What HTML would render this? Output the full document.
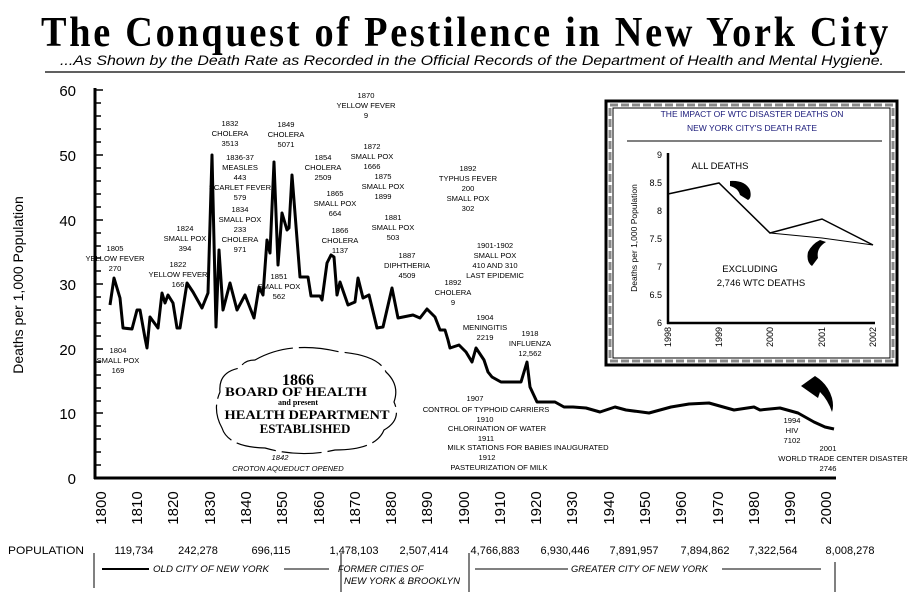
<!DOCTYPE html>
<html><head><meta charset="utf-8"><style>
html,body{margin:0;padding:0;background:#fff;}
svg{display:block;}
.a{font-family:"Liberation Sans",sans-serif;font-size:7.6px;text-anchor:middle;fill:#000;}
</style></head><body>
<svg width="913" height="592" viewBox="0 0 913 592" xmlns="http://www.w3.org/2000/svg">
<!-- Title -->
<text x="466" y="46" text-anchor="middle" font-family="Liberation Serif,serif" font-weight="bold" font-size="42" letter-spacing="3" textLength="850" lengthAdjust="spacingAndGlyphs">The  Conquest  of  Pestilence  in  New  York  City</text>
<text x="472" y="65" text-anchor="middle" font-family="Liberation Sans,sans-serif" font-style="italic" font-size="14" textLength="824" lengthAdjust="spacingAndGlyphs">...As Shown by the Death Rate as Recorded in the Official Records of the Department of Health and Mental Hygiene.</text>
<line x1="45" y1="72" x2="905" y2="72" stroke="#000" stroke-width="1.2"/>

<!-- Axes -->
<line x1="95" y1="88" x2="95" y2="479" stroke="#000" stroke-width="3"/>
<line x1="94" y1="478" x2="836" y2="478" stroke="#000" stroke-width="3"/>
<g stroke="#000" stroke-width="1.5">
<line x1="95" y1="90" x2="103" y2="90"/><line x1="95" y1="103" x2="101" y2="103"/><line x1="95" y1="116" x2="101" y2="116"/><line x1="95" y1="129" x2="101" y2="129"/><line x1="95" y1="142" x2="101" y2="142"/><line x1="95" y1="155" x2="103" y2="155"/><line x1="95" y1="168" x2="101" y2="168"/><line x1="95" y1="181" x2="101" y2="181"/><line x1="95" y1="194" x2="101" y2="194"/><line x1="95" y1="207" x2="101" y2="207"/><line x1="95" y1="220" x2="103" y2="220"/><line x1="95" y1="233" x2="101" y2="233"/><line x1="95" y1="246" x2="101" y2="246"/><line x1="95" y1="258" x2="101" y2="258"/><line x1="95" y1="271" x2="101" y2="271"/><line x1="95" y1="284" x2="103" y2="284"/><line x1="95" y1="297" x2="101" y2="297"/><line x1="95" y1="310" x2="101" y2="310"/><line x1="95" y1="323" x2="101" y2="323"/><line x1="95" y1="336" x2="101" y2="336"/><line x1="95" y1="349" x2="103" y2="349"/><line x1="95" y1="362" x2="101" y2="362"/><line x1="95" y1="375" x2="101" y2="375"/><line x1="95" y1="388" x2="101" y2="388"/><line x1="95" y1="401" x2="101" y2="401"/><line x1="95" y1="413" x2="103" y2="413"/><line x1="95" y1="426" x2="101" y2="426"/><line x1="95" y1="439" x2="101" y2="439"/><line x1="95" y1="452" x2="101" y2="452"/><line x1="95" y1="465" x2="101" y2="465"/>
</g>
<g font-family="Liberation Sans,sans-serif" font-size="15" text-anchor="end">
<text x="76" y="96">60</text><text x="76" y="161">50</text><text x="76" y="226">40</text><text x="76" y="290">30</text><text x="76" y="355">20</text><text x="76" y="419">10</text><text x="76" y="484">0</text>
</g>
<text transform="translate(23,285) rotate(-90)" text-anchor="middle" font-family="Liberation Sans,sans-serif" font-size="14">Deaths per 1,000 Population</text>
<g font-family="Liberation Sans,sans-serif" font-size="15" text-anchor="middle">
<text transform="translate(106,508) rotate(-90)">1800</text><text transform="translate(142,508) rotate(-90)">1810</text><text transform="translate(178,508) rotate(-90)">1820</text><text transform="translate(215,508) rotate(-90)">1830</text><text transform="translate(251,508) rotate(-90)">1840</text><text transform="translate(287,508) rotate(-90)">1850</text><text transform="translate(324,508) rotate(-90)">1860</text><text transform="translate(360,508) rotate(-90)">1870</text><text transform="translate(396,508) rotate(-90)">1880</text><text transform="translate(432,508) rotate(-90)">1890</text><text transform="translate(469,508) rotate(-90)">1900</text><text transform="translate(505,508) rotate(-90)">1910</text><text transform="translate(541,508) rotate(-90)">1920</text><text transform="translate(577,508) rotate(-90)">1930</text><text transform="translate(614,508) rotate(-90)">1940</text><text transform="translate(650,508) rotate(-90)">1950</text><text transform="translate(686,508) rotate(-90)">1960</text><text transform="translate(723,508) rotate(-90)">1970</text><text transform="translate(759,508) rotate(-90)">1980</text><text transform="translate(795,508) rotate(-90)">1990</text><text transform="translate(831,508) rotate(-90)">2000</text>
</g>

<!-- Series -->
<polyline fill="none" stroke="#000" stroke-width="3" stroke-linejoin="round" points="110,305 114,278 120,298 123,328 132,329 137,310 140,310 145,338 147,348 150,317 158,328 162,293 165,303 168,295 173,303 177,328 180,328 187,283 193,292 202,308 208,293 212,155 216,327 219,250 223,310 230,283 237,310 245,295 254,318 259,287 263,295 267,240 270,253 274,162 278,265 282,213 287,230 289,228 292,175 300,277 308,277 311,296 320,296 322,300 327,263 331,255 334,257 337,295 340,282 348,305 355,302 358,278 363,298 369,295 377,328 383,327 392,288 398,318 413,315 420,318 427,309 435,317 440,330 445,330 448,340 450,348 459,345 466,352 472,362 476,348 484,360 488,372 492,377 501,382 521,382 527,362 530,387 537,402 555,402 564,407 573,407 586,408 600,412 615,407 626,410 649,413 671,407 689,404 709,403 734,410 754,407 760,410 780,408 798,413 814,422 825,427 834,429"/>

<!-- Annotations -->
<g class="a">
<text x="115" y="251">1805</text><text x="115" y="261">YELLOW FEVER</text><text x="115" y="271">270</text>
<text x="118" y="353">1804</text><text x="118" y="363">SMALL POX</text><text x="118" y="373">169</text>
<text x="178" y="267">1822</text><text x="178" y="277">YELLOW FEVER</text><text x="178" y="287">166</text>
<text x="185" y="231">1824</text><text x="185" y="241">SMALL POX</text><text x="185" y="251">394</text>
<text x="230" y="126">1832</text><text x="230" y="136">CHOLERA</text><text x="230" y="146">3513</text>
<text x="240" y="160">1836-37</text><text x="240" y="170">MEASLES</text><text x="240" y="180">443</text><text x="240" y="190">SCARLET FEVER</text><text x="240" y="200">579</text>
<text x="240" y="212">1834</text><text x="240" y="222">SMALL POX</text><text x="240" y="232">233</text><text x="240" y="242">CHOLERA</text><text x="240" y="252">971</text>
<text x="286" y="127">1849</text><text x="286" y="137">CHOLERA</text><text x="286" y="147">5071</text>
<text x="279" y="279">1851</text><text x="279" y="289">SMALL POX</text><text x="279" y="299">562</text>
<text x="323" y="160">1854</text><text x="323" y="170">CHOLERA</text><text x="323" y="180">2509</text>
<text x="335" y="196">1865</text><text x="335" y="206">SMALL POX</text><text x="335" y="216">664</text>
<text x="340" y="233">1866</text><text x="340" y="243">CHOLERA</text><text x="340" y="253">1137</text>
<text x="366" y="98">1870</text><text x="366" y="108">YELLOW FEVER</text><text x="366" y="118">9</text>
<text x="372" y="149">1872</text><text x="372" y="159">SMALL POX</text><text x="372" y="169">1666</text>
<text x="383" y="179">1875</text><text x="383" y="189">SMALL POX</text><text x="383" y="199">1899</text>
<text x="393" y="220">1881</text><text x="393" y="230">SMALL POX</text><text x="393" y="240">503</text>
<text x="407" y="258">1887</text><text x="407" y="268">DIPHTHERIA</text><text x="407" y="278">4509</text>
<text x="468" y="171">1892</text><text x="468" y="181">TYPHUS FEVER</text><text x="468" y="191">200</text><text x="468" y="201">SMALL POX</text><text x="468" y="211">302</text>
<text x="495" y="248">1901-1902</text><text x="495" y="258">SMALL POX</text><text x="495" y="268">410 AND 310</text><text x="495" y="278">LAST EPIDEMIC</text>
<text x="453" y="285">1892</text><text x="453" y="295">CHOLERA</text><text x="453" y="305">9</text>
<text x="485" y="320">1904</text><text x="485" y="330">MENINGITIS</text><text x="485" y="340">2219</text>
<text x="530" y="336">1918</text><text x="530" y="346">INFLUENZA</text><text x="530" y="356">12,562</text>
<text x="475" y="401">1907</text><text x="486" y="412">CONTROL OF TYPHOID CARRIERS</text>
<text x="485" y="422">1910</text><text x="497" y="431">CHLORINATION OF WATER</text>
<text x="486" y="441">1911</text><text x="528" y="450">MILK STATIONS FOR BABIES INAUGURATED</text>
<text x="487" y="460">1912</text><text x="499" y="470">PASTEURIZATION OF MILK</text>
<text x="792" y="423">1994</text><text x="792" y="433">HIV</text><text x="792" y="443">7102</text>
<text x="828" y="451">2001</text><text x="843" y="461">WORLD TRADE CENTER DISASTER</text><text x="828" y="471">2746</text>
<text x="280" y="460" font-style="italic">1842</text><text x="288" y="471" font-style="italic">CROTON AQUEDUCT OPENED</text>
</g>

<!-- Cloud -->
<path d="M255,360 Q290,340 340,352 Q378,355 386,372 Q400,385 394,402 Q402,420 384,430 Q376,450 335,450 Q300,458 265,448 Q228,447 222,428 Q212,410 220,392 Q218,372 240,368 Q244,360 255,360 Z" fill="none" stroke="#000" stroke-width="1.2" stroke-dasharray="40 6"/>
<g font-family="Liberation Serif,serif" font-weight="bold" text-anchor="middle">
<text x="298" y="385" font-size="16">1866</text>
<text x="296" y="396" font-size="13" textLength="142" lengthAdjust="spacingAndGlyphs">BOARD OF HEALTH</text>
<text x="298" y="405" font-size="8">and present</text>
<text x="307" y="419" font-size="13" textLength="165" lengthAdjust="spacingAndGlyphs">HEALTH DEPARTMENT</text>
<text x="305" y="433" font-size="13">ESTABLISHED</text>
</g>

<!-- Main arrow -->
<path d="M801,386 L815,376 Q828,384 832,398 Q834,406 832,412 Q828,400 820,392 L818,398 Z" fill="#000"/>

<!-- Inset -->
<rect x="606" y="101" width="291" height="264" fill="#fff" stroke="#000" stroke-width="3"/>
<rect x="610" y="105" width="283" height="256" fill="none" stroke="#888" stroke-width="3" stroke-dasharray="8 3"/>
<rect x="613" y="108" width="277" height="250" fill="#fff" stroke="#000" stroke-width="1"/>
<g font-family="Liberation Sans,sans-serif" font-size="8.5" fill="#1a1a7a" text-anchor="middle">
<text x="752" y="117">THE  IMPACT  OF  WTC DISASTER DEATHS  ON</text>
<text x="752" y="131">NEW  YORK  CITY'S  DEATH RATE</text>
</g>
<line x1="627" y1="141" x2="882" y2="141" stroke="#000" stroke-width="1"/>
<line x1="668" y1="153" x2="668" y2="324" stroke="#000" stroke-width="2.5"/>
<line x1="667" y1="323" x2="875" y2="323" stroke="#000" stroke-width="2.5"/>
<g font-family="Liberation Sans,sans-serif" font-size="9" text-anchor="end">
<text x="662" y="158">9</text><text x="662" y="186">8.5</text><text x="662" y="214">8</text><text x="662" y="242">7.5</text><text x="662" y="270">7</text><text x="662" y="298">6.5</text><text x="662" y="326">6</text>
</g>
<text transform="translate(637,238) rotate(-90)" text-anchor="middle" font-family="Liberation Sans,sans-serif" font-size="8.5">Deaths per 1,000 Population</text>
<g font-family="Liberation Sans,sans-serif" font-size="9" text-anchor="end">
<text transform="translate(671,327) rotate(-90)">1998</text><text transform="translate(722,327) rotate(-90)">1999</text><text transform="translate(773,327) rotate(-90)">2000</text><text transform="translate(825,327) rotate(-90)">2001</text><text transform="translate(876,327) rotate(-90)">2002</text>
</g>
<polyline fill="none" stroke="#000" stroke-width="1.5" points="668,194 719,183 770,233 822,219 873,245"/>
<polyline fill="none" stroke="#000" stroke-width="1" points="770,233 822,238 873,245"/>
<text x="720" y="169" font-family="Liberation Sans,sans-serif" font-size="9.5" text-anchor="middle">ALL DEATHS</text>
<text x="750" y="272" font-family="Liberation Sans,sans-serif" font-size="9.5" text-anchor="middle">EXCLUDING</text>
<text x="761" y="286" font-family="Liberation Sans,sans-serif" font-size="9.5" text-anchor="middle">2,746 WTC DEATHS</text>
<path d="M730,181 Q745,180 750,190 Q752,198 748,200 L740,195 Q738,188 730,186 Z" fill="#000"/>
<path d="M826,242 Q816,248 818,258 L812,266 Q806,262 808,252 Q812,244 820,240 Z" fill="#000"/>

<!-- Population row -->
<g font-family="Liberation Sans,sans-serif" font-size="11">
<text x="8" y="554" textLength="76" lengthAdjust="spacingAndGlyphs">POPULATION</text>
<g text-anchor="middle">
<text x="134" y="554">119,734</text><text x="198" y="554">242,278</text><text x="271" y="554">696,115</text><text x="354" y="554">1,478,103</text><text x="424" y="554">2,507,414</text><text x="495" y="554">4,766,883</text><text x="565" y="554">6,930,446</text><text x="634" y="554">7,891,957</text><text x="705" y="554">7,894,862</text><text x="773" y="554">7,322,564</text><text x="850" y="554">8,008,278</text>
</g>
</g>
<g stroke="#000">
<line x1="94" y1="553" x2="94" y2="588" stroke-width="1"/>
<line x1="341" y1="553" x2="341" y2="592" stroke-width="1"/>
<line x1="469" y1="553" x2="469" y2="592" stroke-width="1"/>
<line x1="835" y1="562" x2="835" y2="592" stroke-width="1"/>
<line x1="102" y1="569" x2="149" y2="569" stroke-width="2"/>
<line x1="284" y1="569" x2="329" y2="569" stroke-width="1"/>
<line x1="475" y1="569" x2="568" y2="569" stroke-width="1"/>
<line x1="722" y1="569" x2="821" y2="569" stroke-width="1"/>
</g>
<g font-family="Liberation Sans,sans-serif" font-size="9" font-style="italic">
<text x="153" y="572" textLength="116" lengthAdjust="spacingAndGlyphs">OLD CITY OF NEW YORK</text>
<text x="338" y="572">FORMER CITIES OF</text>
<text x="344" y="584" textLength="116" lengthAdjust="spacingAndGlyphs">NEW YORK &amp; BROOKLYN</text>
<text x="571" y="572" textLength="137" lengthAdjust="spacingAndGlyphs">GREATER CITY OF NEW YORK</text>
</g>
</svg>
</body></html>
